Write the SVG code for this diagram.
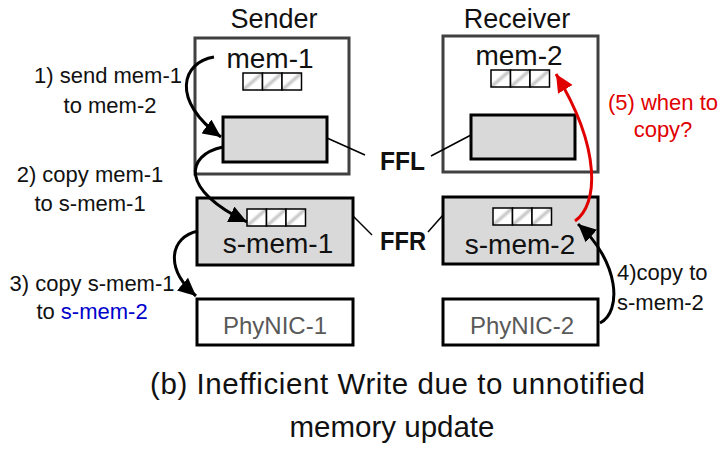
<svg xmlns="http://www.w3.org/2000/svg" width="725" height="450" viewBox="0 0 725 450">
<defs>
<style>
text{font-family:"Liberation Sans",Arial,sans-serif;fill:#111}
.title{font-size:27px;text-anchor:middle}
.mem{font-size:28px;text-anchor:middle}
.lbl{font-size:22px;text-anchor:middle}
.nic{font-size:24px;text-anchor:middle;fill:#595959}
.ff{font-size:26px;font-weight:bold}
.cap{font-size:29.5px}
.outer{fill:#fff;stroke:#404040;stroke-width:3}
.gray{fill:#d9d9d9;stroke:#000;stroke-width:3}
.nicbox{fill:#fff;stroke:#000;stroke-width:3}
.cell{fill:url(#hatch);stroke:#000;stroke-width:1.5}
.arr{fill:none;stroke:#000;stroke-width:3;marker-end:url(#ah)}
.red{fill:none;stroke:#e00000;stroke-width:3;marker-end:url(#ahr)}
.thin{stroke:#000;stroke-width:1.5}
</style>
<linearGradient id="hatch" x1="0" y1="0" x2="1" y2="1">
<stop offset="0" stop-color="#fff"/>
<stop offset="0.38" stop-color="#fff"/>
<stop offset="0.5" stop-color="#c4c4c4"/>
<stop offset="0.62" stop-color="#fff"/>
<stop offset="1" stop-color="#fff"/>
</linearGradient>
<marker id="ah" markerUnits="userSpaceOnUse" markerWidth="19" markerHeight="17" refX="18" refY="8.5" orient="auto">
<path d="M0,0 L18,8.5 L0,17 Z" fill="#000"/>
</marker>
<marker id="ahr" markerUnits="userSpaceOnUse" markerWidth="19" markerHeight="17" refX="18" refY="8.5" orient="auto">
<path d="M0,0 L18,8.5 L0,17 Z" fill="#e00000"/>
</marker>
<g id="cells">
<rect class="cell" x="0" y="0" width="19.5" height="17"/>
<rect class="cell" x="19.5" y="0" width="19.5" height="17"/>
<rect class="cell" x="39" y="0" width="19.5" height="17"/>
</g>
</defs>

<g id="sender">
<text class="title" x="274" y="28">Sender</text>
<rect class="outer" x="195" y="38" width="154" height="136"/>
<text class="mem" x="270" y="68">mem-1</text>
<use href="#cells" x="243" y="73"/>
<rect class="gray" x="223" y="117" width="104" height="45"/>
</g>

<g id="receiver">
<text class="title" x="517" y="28">Receiver</text>
<rect class="outer" x="443" y="36" width="155" height="136"/>
<text class="mem" x="519" y="65">mem-2</text>
<use href="#cells" x="491" y="70"/>
<rect class="gray" x="471" y="115" width="104" height="44"/>
</g>

<g id="s-mem-1">
<rect class="gray" x="197" y="198" width="156" height="67"/>
<use href="#cells" x="247" y="209"/>
<text class="mem" x="278" y="253">s-mem-1</text>
</g>

<g id="s-mem-2">
<rect class="gray" x="443" y="197" width="155" height="67"/>
<use href="#cells" x="493" y="208"/>
<text class="mem" x="520" y="254">s-mem-2</text>
</g>

<g id="phynic-1">
<rect class="nicbox" x="197" y="299" width="156" height="46"/>
<text class="nic" x="275" y="334">PhyNIC-1</text>
</g>

<g id="phynic-2">
<rect class="nicbox" x="443" y="299" width="155" height="46"/>
<text class="nic" x="522" y="334">PhyNIC-2</text>
</g>

<g id="ffl">
<text class="ff" x="380" y="170" textLength="45" lengthAdjust="spacingAndGlyphs">FFL</text>
</g>
<g id="ffr">
<text class="ff" x="380" y="250" textLength="46" lengthAdjust="spacingAndGlyphs">FFR</text>
</g>

<g id="connectors">
<line class="thin" x1="327" y1="138" x2="365" y2="155"/>
<line class="thin" x1="471" y1="135" x2="431" y2="156"/>
<line class="thin" x1="353" y1="216" x2="372" y2="235"/>
<line class="thin" x1="443" y1="215" x2="428" y2="232"/>
<path class="arr" d="M214,57 C182,62 170,100 221,137"/>
<path class="arr" d="M223,147 C185,155 180,190 247,222"/>
<path class="arr" d="M198,231 C170,237 164,268 196,296"/>
<path class="arr" d="M600,323 C622,312 620,262 578,224"/>
<path class="red" d="M575,221 C598,205 602,150 556,74"/>
</g>

<g id="labels">
<text class="lbl" x="108" y="83">1) send mem-1</text>
<text class="lbl" x="110" y="113">to mem-2</text>
<text class="lbl" x="90" y="182">2) copy mem-1</text>
<text class="lbl" x="90" y="211">to s-mem-1</text>
<text class="lbl" x="92" y="291">3) copy s-mem-1</text>
<text class="lbl" x="92" y="319">to <tspan fill="#0000cc">s-mem-2</tspan></text>
<text class="lbl" x="617" y="280" style="text-anchor:start">4)copy to</text>
<text class="lbl" x="617" y="310" style="text-anchor:start">s-mem-2</text>
<text class="lbl" x="663" y="110" style="fill:#e00000">(5) when to</text>
<text class="lbl" x="663" y="137" style="fill:#e00000">copy?</text>
</g>

<g id="caption">
<text class="cap" x="150" y="394" textLength="495">(b) Inefficient Write due to unnotified</text>
<text class="cap" x="392" y="437" style="text-anchor:middle">memory update</text>
</g>
</svg>
